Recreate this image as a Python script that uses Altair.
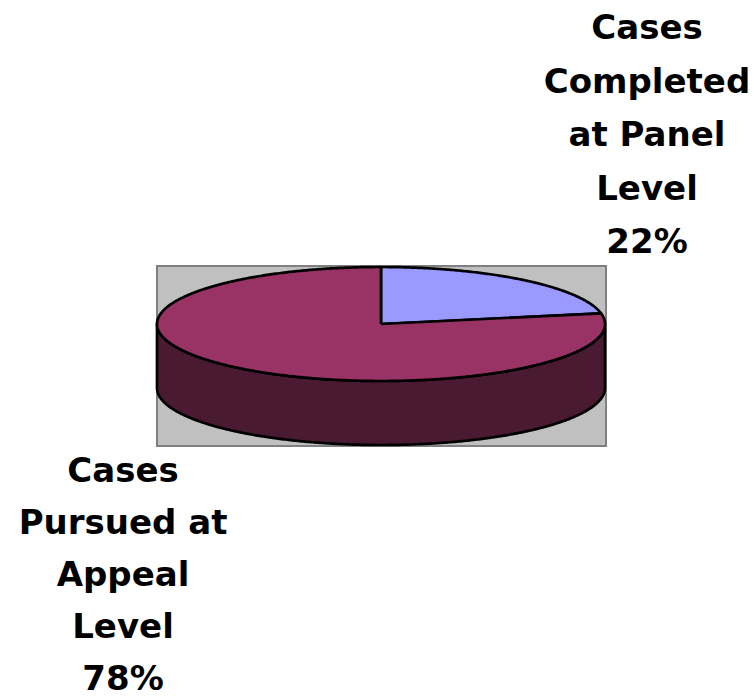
import numpy as np
import pandas as pd
import altair as alt

# ---- data ----
categories = ["Cases Completed at Panel Level", "Cases Pursued at Appeal Level"]
label_lines = ["Cases\nCompleted\nat Panel\nLevel", "Cases\nPursued at\nAppeal\nLevel"]
values = [22, 78]
top_colors = ["#9999FF", "#993366"]
side_colors = ["#4D4D80", "#4A1A33"]

# ---- layout (pixels) ----
W, H = 754, 698
CX, CY, RX, RY, DEPTH = 381, 324, 224, 57, 64

total = float(sum(values))
fr = np.cumsum([0] + values) / total  # clockwise from 12 o'clock


def ell(tdeg, dy=0.0):
    t = np.radians(tdeg)
    return CX + RX * np.sin(t), CY - RY * np.cos(t) + dy


top_frames, side_frames = [], []
for i, cat in enumerate(categories):
    s, e = fr[i] * 360, fr[i + 1] * 360
    ts = np.linspace(s, e, max(3, int((e - s) * 2)))
    xs, ys = ell(ts)
    px = np.concatenate([[CX], xs, [CX]])
    py = np.concatenate([[CY], ys, [CY]])
    top_frames.append(pd.DataFrame({"x": px, "y": py, "i": np.arange(len(px)), "cat": cat}))
    # visible front wall: clockwise angles 90..270
    a, b = max(s, 90), min(e, 270)
    if b > a:
        tw = np.linspace(a, b, max(3, int((b - a) * 2)))
        ux, uy = ell(tw)
        lx, ly = ell(tw[::-1], DEPTH)
        px = np.concatenate([ux, lx, ux[:1]])
        py = np.concatenate([uy, ly, uy[:1]])
        side_frames.append((i, pd.DataFrame({"x": px, "y": py, "i": np.arange(len(px)), "cat": cat})))

xs_ = alt.Scale(domain=[0, W], range=[0, W], nice=False, zero=False)
ys_ = alt.Scale(domain=[0, H], range=[0, H], nice=False, zero=False)

layers = []

bg = alt.Chart(pd.DataFrame({"a": [0]})).mark_rect(
    fill="#C0C0C0", stroke="#808080", strokeWidth=2
).encode(
    x=alt.value(CX - RX), x2=alt.value(CX + RX + 1),
    y=alt.value(CY - RY - 1), y2=alt.value(CY + RY + DEPTH + 1),
)
layers.append(bg)


def poly(df, color):
    return alt.Chart(df).mark_line(
        fill=color, stroke="black", strokeWidth=2.7, strokeJoin="round"
    ).encode(
        x=alt.X("x:Q", scale=xs_, axis=None),
        y=alt.Y("y:Q", scale=ys_, axis=None),
        order="i:Q",
    )


for i, df in side_frames:
    layers.append(poly(df, side_colors[i]))
for i, df in enumerate(top_frames):
    layers.append(poly(df, top_colors[i]))

labels = pd.DataFrame({
    "text": [f"{label_lines[i]}\n{values[i]}%" for i in range(len(values))],
})

text_style = dict(font="DejaVu Sans", fontWeight="bold", fontSize=34,
                  align="center", baseline="alphabetic", lineBreak="\n", color="black")

t1 = alt.Chart(labels.iloc[[0]]).mark_text(lineHeight=53.5, **text_style).encode(
    text="text:N", x=alt.value(647), y=alt.value(39))
t2 = alt.Chart(labels.iloc[[1]]).mark_text(lineHeight=52, **text_style).encode(
    text="text:N", x=alt.value(123), y=alt.value(482))
layers += [t1, t2]

chart = alt.layer(*layers).properties(
    width=W, height=H, padding=0, autosize=alt.AutoSizeParams(type="none"),
    background="white",
).configure_view(stroke=None)

chart.save("out.html", embed_options={"renderer": "svg", "actions": False})
